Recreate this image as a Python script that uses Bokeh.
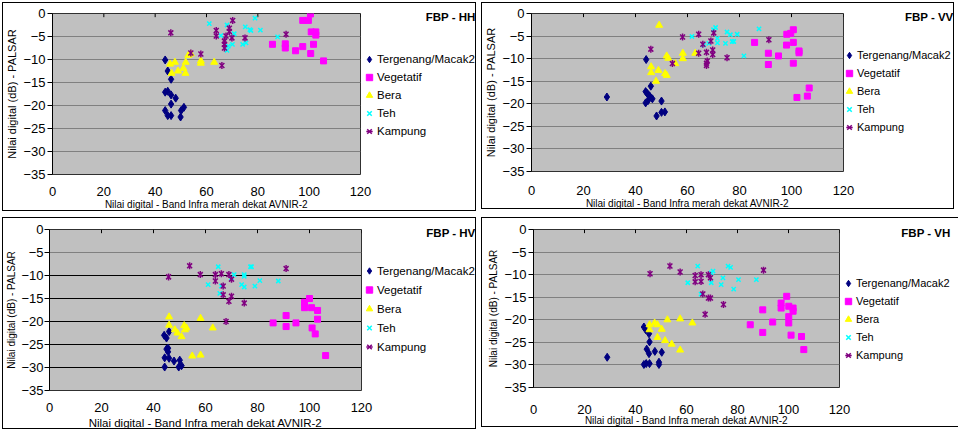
import math
from bokeh.plotting import figure
from bokeh.models import Range1d, FixedTicker, Legend, LegendItem, Title, Grid
from bokeh.layouts import column, row
from bokeh.embed import file_html
from bokeh.resources import INLINE

SERIES = ["Tergenang/Macak2", "Vegetatif", "Bera", "Teh", "Kampung"]
X_TICKS = [0, 20, 40, 60, 80, 100, 120]
Y_TICKS = [-35, -30, -25, -20, -15, -10, -5, 0]
X_LABEL = "Nilai digital - Band Infra merah dekat AVNIR-2"
Y_LABEL = "Nilai digital (dB) - PALSAR"
TITLES = ["FBP - HH", "FBP - VV", "FBP - HV", "FBP - VH"]

# ---- FBP - HH ----
hh_terg_x = [43.9, 44.9, 46.2, 43.9, 44.9, 46.2, 48.0, 46.2, 43.9, 44.9, 46.2, 50.1, 51.2, 49.9]
hh_terg_y = [-10.1, -12.5, -14.3, -17.1, -16.9, -17.7, -18.4, -19.7, -21.1, -22.2, -22.2, -21.1, -20.4, -22.5]
hh_veg_x = [85.7, 90.7, 90.7, 94.7, 97.5, 97.5, 99.7, 100.5, 100.8, 102.6, 102.6, 101.7, 100.6, 105.6]
hh_veg_y = [-6.7, -6.6, -7.5, -8.1, -7.2, -1.5, -1.5, -0.1, -4.0, -4.0, -4.7, -6.7, -8.7, -10.3]
hh_bera_x = [45.8, 47.7, 46.4, 48.9, 51.0, 51.9, 51.8, 52.9, 53.9, 57.8, 57.8, 63.0]
hh_bera_y = [-11.0, -10.6, -13.0, -12.5, -11.9, -10.6, -13.0, -9.1, -8.8, -10.3, -10.8, -10.6]
hh_teh_x = [61.1, 68.0, 70.8, 65.6, 75.1, 76.9, 77.3, 78.9, 81.0, 87.7, 70.1, 68.5, 68.0, 74.1, 75.4]
hh_teh_y = [-2.2, -2.5, -4.4, -4.8, -2.9, -3.5, -3.7, -1.0, -3.6, -5.1, -6.7, -7.1, -8.0, -6.7, -6.4]
hh_kamp_x = [46.1, 53.9, 57.8, 63.8, 63.8, 70.2, 68.9, 68.9, 67.6, 69.9, 75.0, 67.0, 67.0, 67.0, 91.0, 66.0]
hh_kamp_y = [-4.2, -8.6, -8.8, -3.7, -4.9, -1.5, -3.2, -3.9, -4.9, -5.3, -5.3, -6.0, -6.7, -7.5, -4.5, -11.3]

# ---- FBP - VV ----
vv_terg_x = [29.0, 44.1, 45.9, 43.9, 44.5, 45.0, 45.6, 43.9, 44.8, 46.5, 50.0, 48.1, 50.0, 51.3]
vv_terg_y = [-18.5, -10.2, -16.1, -17.3, -17.7, -18.0, -18.4, -19.8, -19.3, -18.9, -19.4, -22.7, -21.9, -21.8]
vv_veg_x = [85.8, 91.1, 91.1, 95.0, 98.1, 98.2, 99.7, 100.7, 100.7, 102.9, 102.9, 100.7, 106.8, 106.1, 102.1]
vv_veg_y = [-6.4, -8.8, -11.3, -9.4, -7.0, -4.6, -4.4, -3.6, -6.4, -8.3, -8.7, -11.0, -16.5, -18.3, -18.6]
vv_bera_x = [49.1, 52.0, 52.6, 55.3, 58.2, 58.2, 63.0, 46.0, 46.0, 48.8, 51.4, 52.0, 47.9]
vv_bera_y = [-2.6, -9.4, -9.9, -11.1, -8.8, -10.0, -8.8, -11.8, -13.1, -12.6, -13.3, -13.7, -15.0]
vv_teh_x = [61.7, 70.8, 70.0, 75.2, 76.5, 79.1, 87.5, 77.8, 77.2, 71.5, 71.5, 68.2, 66.2, 81.7, 74.6]
vv_teh_y = [-5.1, -3.1, -3.6, -4.1, -4.7, -4.6, -3.4, -6.2, -6.2, -5.5, -6.5, -6.6, -7.0, -9.4, -6.6]
vv_kamp_x = [45.9, 54.2, 58.1, 64.3, 70.1, 65.9, 64.3, 67.3, 69.7, 69.7, 69.0, 67.6, 67.3, 67.3, 75.2, 91.3]
vv_kamp_y = [-7.9, -11.1, -5.2, -4.6, -4.3, -6.8, -8.8, -8.6, -8.1, -9.1, -6.1, -10.5, -11.0, -11.5, -9.8, -5.8]

# ---- FBP - HV ----
hv_terg_x = [44.1, 45.0, 46.0, 45.0, 45.6, 44.3, 46.0, 44.3, 47.9, 50.1, 49.7, 50.8, 45.6]
hv_terg_y = [-23.0, -23.6, -22.2, -26.0, -25.8, -27.9, -28.0, -29.9, -28.6, -28.4, -29.9, -29.6, -26.6]
hv_veg_x = [86.0, 91.0, 91.0, 94.8, 98.1, 98.1, 100.0, 100.8, 101.0, 102.2, 103.1, 103.1, 106.2]
hv_veg_y = [-20.3, -18.7, -21.1, -20.3, -15.8, -17.0, -15.0, -17.0, -21.4, -22.7, -17.6, -19.5, -27.4]
hv_bera_x = [46.0, 46.0, 48.2, 49.2, 50.8, 51.8, 52.1, 52.7, 58.1, 62.8, 54.9, 58.1]
hv_bera_y = [-19.0, -20.8, -21.8, -22.5, -23.3, -20.9, -21.8, -21.4, -19.3, -21.4, -27.5, -27.3]
hv_teh_x = [64.9, 77.3, 77.7, 71.0, 70.0, 74.9, 74.9, 80.9, 88.0, 61.0, 66.1, 73.9, 74.9, 79.0, 65.5]
hv_teh_y = [-8.1, -8.1, -8.1, -9.8, -10.5, -9.8, -10.2, -11.1, -11.2, -12.0, -12.3, -12.0, -12.5, -12.3, -13.9]
hv_kamp_x = [45.8, 53.9, 58.0, 63.8, 63.8, 66.1, 66.8, 66.8, 69.0, 70.0, 70.0, 69.0, 74.9, 91.0, 67.9]
hv_kamp_y = [-10.3, -7.9, -9.8, -9.8, -11.2, -9.6, -12.3, -14.2, -9.8, -10.8, -14.5, -15.6, -16.0, -8.5, -20.0]

# ---- FBP - VH ----
vh_terg_x = [28.9, 43.3, 44.0, 45.3, 45.5, 44.4, 45.3, 47.6, 50.3, 43.3, 44.2, 45.5, 49.2, 49.2]
vh_terg_y = [-28.3, -21.6, -22.2, -23.1, -24.9, -26.5, -27.5, -27.0, -27.2, -29.9, -29.7, -29.7, -29.4, -29.9]
vh_veg_x = [85.0, 89.9, 89.9, 93.8, 97.1, 97.1, 99.3, 100.1, 100.1, 100.1, 101.0, 101.8, 101.8, 105.1, 106.0]
vh_veg_y = [-21.1, -17.8, -22.8, -20.5, -16.3, -17.4, -14.8, -17.0, -19.3, -20.7, -23.4, -17.4, -18.1, -23.7, -26.6]
vh_bera_x = [45.5, 45.5, 47.5, 48.6, 48.6, 50.3, 51.6, 52.5, 54.2, 57.5, 57.5, 62.3]
vh_bera_y = [-21.1, -22.2, -20.7, -21.1, -23.9, -22.1, -24.6, -20.0, -25.4, -19.8, -26.7, -20.7]
vh_teh_x = [64.4, 76.3, 77.3, 69.7, 70.4, 74.3, 80.4, 87.4, 60.5, 69.7, 73.6, 78.5, 65.7]
vh_teh_y = [-8.1, -8.1, -8.4, -9.6, -9.2, -10.7, -11.1, -11.1, -11.8, -11.8, -12.2, -13.2, -14.3]
vh_kamp_x = [45.7, 53.5, 57.5, 63.4, 63.4, 65.7, 65.7, 68.6, 69.4, 66.4, 69.4, 68.6, 74.5, 90.2, 67.3]
vh_kamp_y = [-9.8, -8.1, -9.4, -10.2, -11.6, -10.0, -11.5, -10.0, -10.7, -14.3, -15.2, -15.2, -16.6, -9.0, -18.8]

PANEL_DATA = [
    [(hh_terg_x, hh_terg_y), (hh_veg_x, hh_veg_y), (hh_bera_x, hh_bera_y), (hh_teh_x, hh_teh_y), (hh_kamp_x, hh_kamp_y)],
    [(vv_terg_x, vv_terg_y), (vv_veg_x, vv_veg_y), (vv_bera_x, vv_bera_y), (vv_teh_x, vv_teh_y), (vv_kamp_x, vv_kamp_y)],
    [(hv_terg_x, hv_terg_y), (hv_veg_x, hv_veg_y), (hv_bera_x, hv_bera_y), (hv_teh_x, hv_teh_y), (hv_kamp_x, hv_kamp_y)],
    [(vh_terg_x, vh_terg_y), (vh_veg_x, vh_veg_y), (vh_bera_x, vh_bera_y), (vh_teh_x, vh_teh_y), (vh_kamp_x, vh_kamp_y)],
]

FONT = "Liberation Sans"

GEOM = [
    dict(l=49, t=10, fw=306, fh=159, r=117, xs=6, xas=0, xl="10px", yl="11px", yls=2, yas=2,
         grid="#808080", dark=None, leg=(1, 34), row=18, lf="11.5px", tx=-115),
    dict(l=47, t=9, fw=310, fh=156, r=112, xs=8, xas=0, xl="10px", yl="11px", yls=2, yas=2,
         grid="#808080", dark=None, leg=(-2, 35), row=18, lf="11px", tx=-110),
    dict(l=46, t=10, fw=310, fh=159, r=116, xs=6, xas=2, xl="11.5px", yl="10px", yls=1, yas=1,
         grid="#808080", dark=[-30, -25, -20, -15, -10], leg=(0, 34), row=19, lf="11.5px", tx=-114),
    dict(l=51, t=11, fw=304, fh=156, r=114, xs=11, xas=-2, xl="10px", yl="10px", yls=2, yas=2,
         grid="#808080", dark=None, leg=(1, 23), row=18, lf="11px", tx=-111),
]


def make_panel(title, data, g):
    p = figure(frame_width=g["fw"], frame_height=g["fh"], x_range=Range1d(0, 120), y_range=Range1d(-35, 0),
               output_backend="svg", toolbar_location=None,
               min_border_left=g["l"], min_border_top=g["t"],
               min_border_right=g["r"], min_border_bottom=30,
               background_fill_color="#C0C0C0", border_fill_color="white",
               outline_line_color="#303030", styles={"border": "1px solid black"})
    xa = p.xaxis[0]
    xa.ticker = FixedTicker(ticks=X_TICKS)
    xa.axis_line_color = None
    xa.major_tick_line_color = None
    xa.minor_tick_line_color = None
    xa.major_label_standoff = g["xs"]
    xa.major_label_text_font = FONT
    xa.major_label_text_font_size = "13px"
    xa.major_label_text_color = "black"
    xa.axis_label = X_LABEL
    xa.axis_label_text_font = FONT
    xa.axis_label_text_font_size = g["xl"]
    xa.axis_label_text_font_style = "normal"
    xa.axis_label_text_color = "black"
    xa.axis_label_standoff = g["xas"]

    ya = p.yaxis[0]
    ya.ticker = FixedTicker(ticks=Y_TICKS)
    ya.axis_line_color = "black"
    ya.major_tick_line_color = "black"
    ya.major_tick_out = 5
    ya.major_tick_in = 0
    ya.minor_tick_line_color = None
    ya.major_label_standoff = g["yls"]
    ya.major_label_text_font = FONT
    ya.major_label_text_font_size = "13px"
    ya.major_label_text_color = "black"
    ya.axis_label = Y_LABEL
    ya.axis_label_text_font = FONT
    ya.axis_label_text_font_size = g["yl"]
    ya.axis_label_text_font_style = "normal"
    ya.axis_label_text_color = "black"
    ya.axis_label_standoff = g["yas"]

    p.xgrid.visible = False
    p.ygrid.ticker = FixedTicker(ticks=Y_TICKS)
    p.ygrid.grid_line_color = g["grid"]
    p.ygrid.grid_line_width = 1
    if g["dark"]:
        p.add_layout(Grid(dimension=1, ticker=FixedTicker(ticks=g["dark"]),
                          grid_line_color="black", grid_line_width=1))

    # x axis crosses at y = 0 (top edge): short inward tick marks there
    top_y = [Y_TICKS[-1]] * len(X_TICKS)
    p.segment(x0=X_TICKS, y0=top_y, x1=X_TICKS, y1=[v - 0.8 for v in top_y], line_color="black", line_width=1)

    (tx, ty), (vx, vy), (bx, by), (ex, ey), (kx, ky) = data
    r1 = p.scatter(tx, ty, marker="diamond", size=8, fill_color="#000080", line_color="#000080")
    r2 = p.scatter(vx, vy, marker="square", size=6, fill_color="#FF00FF", line_color="#FF00FF")
    r3 = p.scatter(bx, by, marker="triangle", size=7, fill_color="#FFFF00", line_color="#FFFF00")
    r4 = p.scatter(ex, ey, marker="x", size=6, line_color="#00FFFF", line_width=1.5)
    r5a = p.scatter(kx, ky, marker="x", size=7, line_color="#800080", line_width=1.5)
    r5b = p.scatter(kx, ky, marker="dash", size=7, angle=math.pi / 2, line_color="#800080", line_width=1.5)

    items = [LegendItem(label=SERIES[0], renderers=[r1]),
             LegendItem(label=SERIES[1], renderers=[r2]),
             LegendItem(label=SERIES[2], renderers=[r3]),
             LegendItem(label=SERIES[3], renderers=[r4]),
             LegendItem(label=SERIES[4], renderers=[r5a, r5b])]
    leg = Legend(items=items, location=g["leg"], padding=0, margin=0, spacing=0,
                 glyph_width=16, glyph_height=g["row"], label_height=g["row"],
                 label_standoff=0, label_text_font=FONT, label_text_font_size=g["lf"],
                 label_text_color="black", border_line_color=None, background_fill_alpha=0)
    p.add_layout(leg, "right")

    p.add_layout(Title(text=title, align="right", vertical_align="bottom", offset=g["tx"],
                       standoff=-18, text_font=FONT, text_font_size="11.5px",
                       text_font_style="bold", text_color="black"), "above")
    return p


panels = [make_panel(TITLES[i], PANEL_DATA[i], GEOM[i]) for i in range(4)]
layout = column(row(panels[0], panels[1], spacing=5), row(panels[2], panels[3], spacing=5),
                spacing=6, styles={"margin-left": "2px", "margin-top": "2px"})

open("out.html", "w").write(file_html(layout, INLINE))
